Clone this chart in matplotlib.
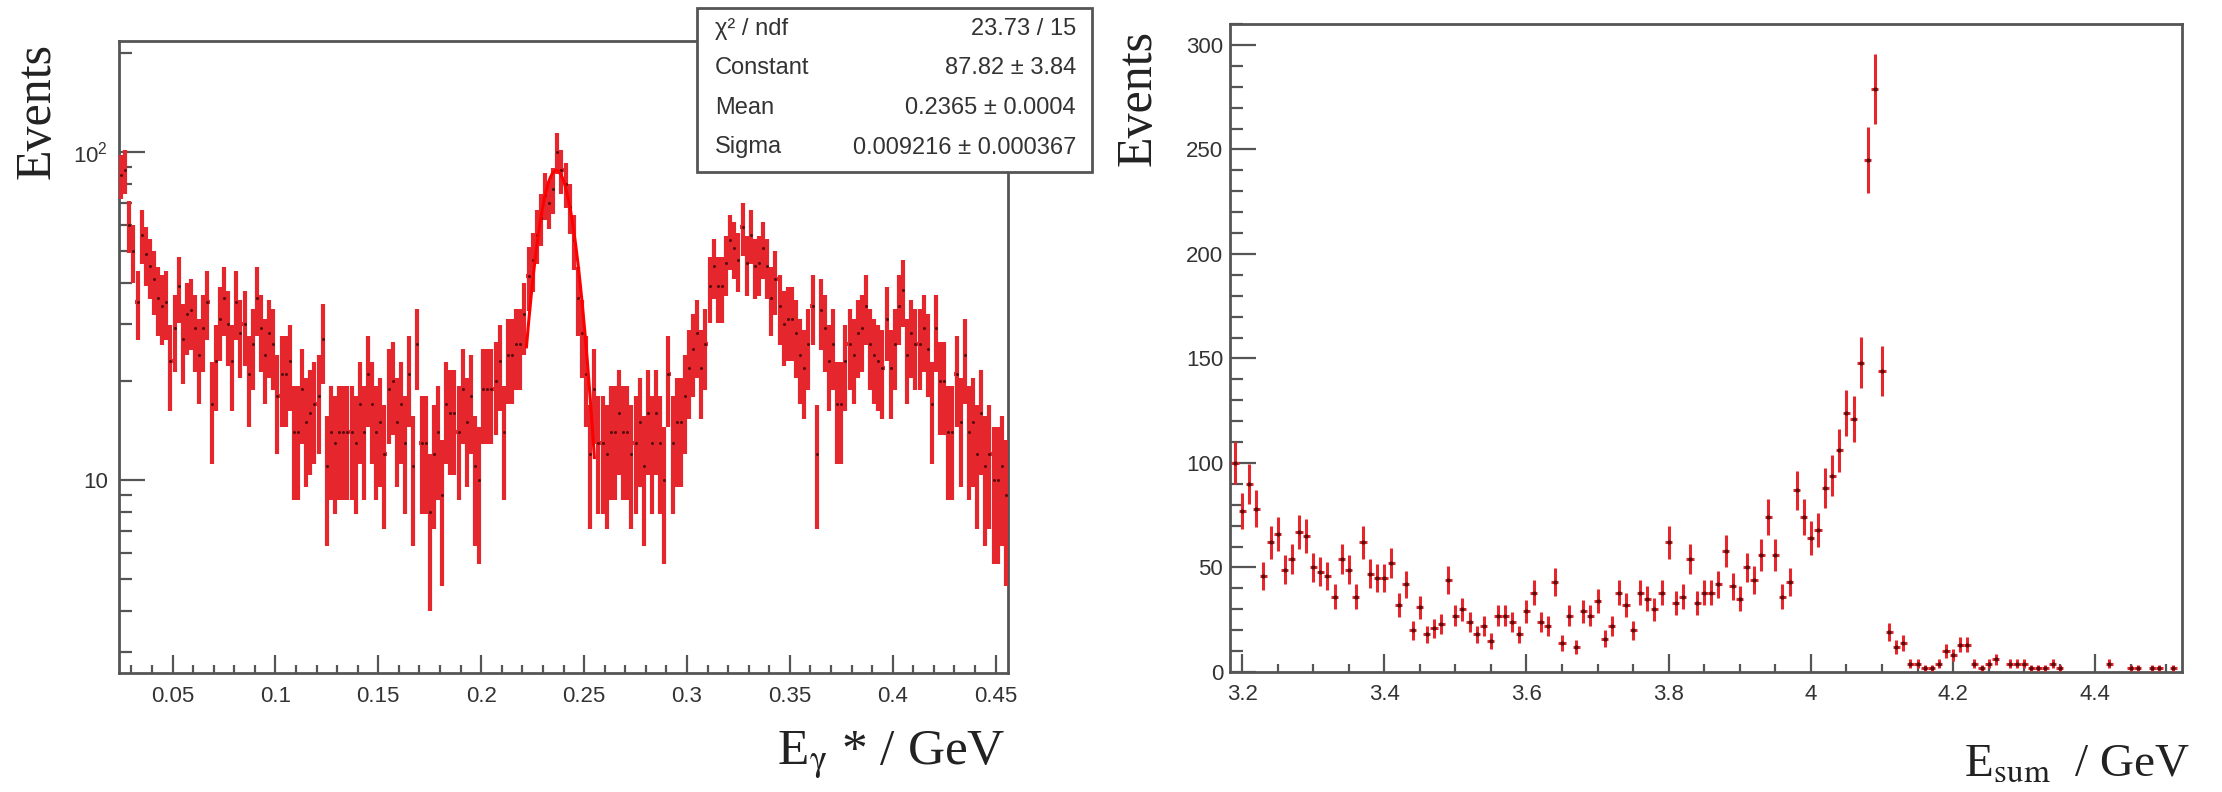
import numpy as np
import matplotlib.pyplot as plt
from matplotlib.patches import Rectangle
from matplotlib.ticker import (MultipleLocator, FixedLocator, FixedFormatter,
                               LogLocator, NullFormatter, FuncFormatter)

plt.rcParams['font.family'] = ['Liberation Sans', 'DejaVu Sans']
plt.rcParams['mathtext.fontset'] = 'stix'

# left: photon energy E_gamma*, 216 bins of 2 MeV between 0.024 and 0.456 GeV
egamma_range = (0.024, 0.456)
egamma_counts_1 = [85, 88, 60, 50, 35, 56, 49, 45, 41, 36,
                   34, 35, 23, 29, 39, 27, 32, 33, 29, 24,
                   29, 35, 17, 23, 31, 36, 30, 23, 35, 28,
                   30, 21, 26, 36, 29, 24, 28, 26, 18, 21,
                   21, 23, 14, 14, 19, 15, 16, 17, 18, 27,
                   11, 14, 13]
egamma_counts_2 = [14, 14, 14, 14, 13, 17, 14, 21, 17, 14,
                   15, 12, 19, 20, 15, 17, 13, 21, 11, 26,
                   13, 13, 8, 12, 14, 9, 17, 16, 16, 14,
                   19, 15, 18, 11, 10, 19, 19, 19, 20,
                   23, 14, 24, 24, 26, 26, 32, 42, 47, 56,
                   63, 74, 70, 77, 100]
egamma_counts_3 = [88, 80, 68, 54, 36, 28, 21, 12, 19, 13,
                   13, 12, 14, 14, 16, 14, 14, 12, 13, 15,
                   11, 16, 13, 16, 13, 10, 21, 13, 15, 15,
                   18, 22, 25, 28, 22, 26, 39, 45, 39, 39,
                   46, 54, 51, 47, 59, 46, 56, 45, 46, 51,
                   45, 36, 41, 34, 30, 31]
egamma_counts_4 = [31, 28, 24, 22, 26, 34, 12, 33, 29, 23,
                   26, 17, 17, 23, 26, 24, 28, 29, 34, 26,
                   24, 23, 22, 31, 22, 26, 34, 38, 24, 28,
                   26, 26, 29, 25, 17, 29, 20, 20, 14, 14,
                   21, 15, 24, 14, 15, 12, 16, 11, 12, 10,
                   10, 11, 9]

# gaussian fit, as printed in the stats box
fit_labels = ['χ² / ndf', 'Constant', 'Mean', 'Sigma']
fit_texts = ['23.73 / 15', '87.82 ± 3.84', '0.2365 ± 0.0004', '0.009216 ± 0.000367']
fit_const, fit_mean, fit_sigma = 87.82, 0.2365, 0.009216
fit_range = (0.222, 0.255)

# right: E_sum, 133 bins of 10 MeV between 3.185 and 4.515 GeV (nan = empty bin)
nan = np.nan
esum_range = (3.185, 4.515)
esum_counts = [100, 77, 90, 78, 46, 62, 66, 49, 54, 67,
               65, 50, 48, 46, 36, 54, 49, 36, 62, 47,
               45, 45, 52, 32, 42, 20, 31, 18, 21, 23,
               44, 27, 30, 24, 18, 22, 15, 27, 27, 24,
               18, 29, 38, 24, 22, 43, 14, 27, 12, 29,
               27, 34, 16, 22, 38, 32, 20, 38, 35, 30,
               38, 62, 33, 36, 54, 33, 38, 38, 42, 58,
               41, 35, 50, 44, 56, 74, 56, 36, 43, 87,
               74, 64, 68, 88, 94, 106, 124, 121, 148, 245,
               279, 144, 19, 12, 14, 4, 4, 2, 2, 4,
               10, 8, 13, 13, 4, 2, 4, 6, nan, 4,
               4, 4, 2, 2, 2, 4, 2, nan, nan, nan,
               nan, nan, nan, 4, nan, nan, 2, 2, nan, 2,
               2, nan, 2]

RED = '#e5262d'
DARK = '#5a0d0d'
FRAME = '#555555'
TXT = '#333333'
W, H = 2222, 792

fig = plt.figure(figsize=(W / 100, H / 100), dpi=100)


def px_axes(left, top, right, bottom):
    return fig.add_axes([left / W, 1 - bottom / H, (right - left) / W, (bottom - top) / H])


def style_frame(ax):
    for s in ax.spines.values():
        s.set_color(FRAME)
        s.set_linewidth(2)
    ax.tick_params(which='both', direction='in', colors=FRAME, width=1.6,
                   labelcolor=TXT, labelsize=16, top=False, right=False)


def draw_hist(ax, lo, hi, counts, err, lw, ms):
    counts = np.asarray(counts, float)
    edges = np.linspace(lo, hi, len(counts) + 1)
    centers = 0.5 * (edges[:-1] + edges[1:])
    half = 0.5 * np.diff(edges)
    ax.errorbar(centers, counts, yerr=err(counts), xerr=half, fmt='none',
                ecolor=RED, elinewidth=lw, capsize=0, zorder=3)
    ax.plot(centers, counts, 'o', ms=ms, color=DARK, mec='none', zorder=4)


# ---------- left panel ----------
ax1 = px_axes(119, 41, 1008, 673)
eg_counts = egamma_counts_1 + egamma_counts_2 + egamma_counts_3 + egamma_counts_4
draw_hist(ax1, *egamma_range, eg_counts, lambda c: np.sqrt(2 * c), 3.0, 2.2)

xs = np.linspace(*fit_range, 300)
ax1.plot(xs, fit_const * np.exp(-0.5 * ((xs - fit_mean) / fit_sigma) ** 2),
         color='#ff0000', lw=2.2, zorder=5)

ax1.set_yscale('log')
ax1.set_xlim(*egamma_range)
ax1.set_ylim(2.58, 218)
ax1.yaxis.set_major_locator(FixedLocator([10, 100]))
ax1.yaxis.set_major_formatter(FixedFormatter(['10', r'$\mathregular{10^{2}}$']))
ax1.yaxis.set_minor_locator(LogLocator(base=10, subs=np.arange(2, 10)))
ax1.yaxis.set_minor_formatter(NullFormatter())
ax1.xaxis.set_major_locator(MultipleLocator(0.05))
ax1.xaxis.set_minor_locator(MultipleLocator(0.01))
ax1.xaxis.set_major_formatter(FuncFormatter(lambda v, p: '%g' % round(v, 3)))
style_frame(ax1)
ax1.tick_params(axis='y', which='major', length=19, pad=8)
ax1.tick_params(axis='y', which='minor', length=9)
ax1.tick_params(axis='x', which='major', length=13, pad=9)
ax1.tick_params(axis='x', which='minor', length=6)

# stats box
fig.patches.append(Rectangle((697 / W, 1 - 172 / H), (1092 - 697) / W, (172 - 8) / H,
                             transform=fig.transFigure, facecolor='white',
                             edgecolor=FRAME, lw=2, zorder=10))
for i, (lab, val) in enumerate(zip(fit_labels, fit_texts)):
    y = 1 - (29 + 39.5 * i) / H
    fig.text(715 / W, y, lab, ha='left', va='center', fontsize=17, color=TXT, zorder=11)
    fig.text(1076 / W, y, val, ha='right', va='center', fontsize=17, color=TXT, zorder=11)

# ---------- right panel ----------
ax2 = px_axes(1230, 24, 2182, 672)
draw_hist(ax2, *esum_range, esum_counts, np.sqrt, 2.2, 3)
ax2.set_xlim(3.183, 4.522)
ax2.set_ylim(0, 310)
ax2.xaxis.set_major_locator(MultipleLocator(0.2))
ax2.xaxis.set_minor_locator(MultipleLocator(0.05))
ax2.xaxis.set_major_formatter(FuncFormatter(lambda v, p: '%g' % round(v, 2)))
ax2.yaxis.set_major_locator(MultipleLocator(50))
ax2.yaxis.set_minor_locator(MultipleLocator(10))
style_frame(ax2)
ax2.tick_params(axis='y', which='major', length=19, pad=5)
ax2.tick_params(axis='y', which='minor', length=9)
ax2.tick_params(axis='x', which='major', length=13, pad=9)
ax2.tick_params(axis='x', which='minor', length=6)

# axis titles (ROOT style: at the far end of each axis)
serif = ['Liberation Serif', 'DejaVu Serif']
fig.text(37 / W, 1 - 43 / H, 'Events', rotation=90, ha='center', va='top',
         fontsize=36, family=serif, color='#222222')
fig.text(1138 / W, 1 - 30 / H, 'Events', rotation=90, ha='center', va='top',
         fontsize=36, family=serif, color='#222222')
fig.text(1006 / W, 1 - 756 / H, r'E$_{\mathrm{\gamma}}$ * / GeV', ha='right', va='center',
         fontsize=37, family=serif, color='#222222')
fig.text(2190 / W, 1 - 765 / H, r'E$_{\rm sum}$  / GeV', ha='right', va='center',
         fontsize=34, family=serif, color='#222222')

fig.savefig('out.png', dpi=100)
